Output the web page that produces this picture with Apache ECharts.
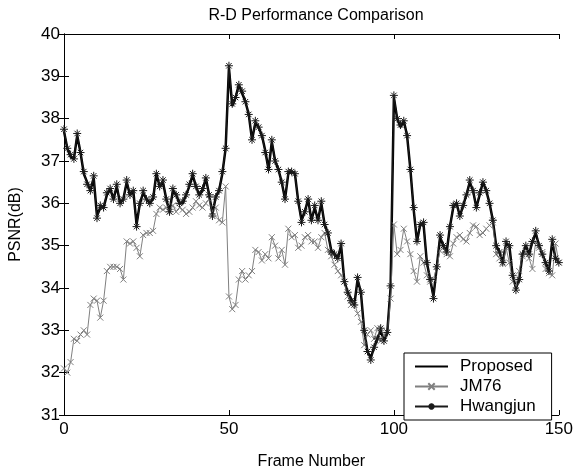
<!DOCTYPE html>
<html>
<head>
<meta charset="utf-8">
<script src="https://cdn.jsdelivr.net/npm/echarts@6/dist/echarts.min.js"></script>
<style>html,body{margin:0;padding:0;background:#fff;}#c{width:576px;height:475px;}</style>
</head>
<body>
<div id="c"></div>
<script>
var xTicks = [0, 50, 100, 150];
var yTicks = [31, 32, 33, 34, 35, 36, 37, 38, 39, 40];
var seriesNames = ['Proposed', 'JM76', 'Hwangjun'];

var proposed = [
37.7,37.3,37.1,37.05,37.6,37.2,36.7,36.5,36.3,36.6,
35.7,35.9,35.9,36.2,36.35,36.1,36.4,36.0,36.1,36.5,
36.2,36.3,35.5,36.0,36.25,36.1,36.0,36.1,36.7,36.4,
36.5,36.1,35.8,36.3,36.2,36.0,36.0,36.2,36.4,36.67,
36.4,36.2,36.3,36.6,36.2,35.75,36.15,36.3,36.7,37.3,
39.2,38.3,38.5,38.8,38.6,38.4,38.1,37.5,37.9,37.8,
37.6,37.25,36.8,37.45,37.0,36.8,36.5,36.1,36.7,36.75,
36.7,36.05,35.6,35.8,36.1,35.6,35.9,35.6,36.0,35.5,
35.3,34.9,34.8,34.7,35.0,34.15,33.9,33.75,33.6,34.2,
33.9,33.0,32.5,32.35,32.6,32.8,33.0,32.75,32.95,34.0,
38.5,38.0,37.8,37.95,37.6,36.8,35.85,35.1,35.5,35.5,
34.6,34.2,33.8,34.5,35.2,35.0,34.85,35.45,35.9,36.0,
35.7,35.95,36.2,36.5,36.3,35.9,36.2,36.5,36.3,36.0,
35.6,35.0,34.85,34.6,35.05,35.0,34.3,34.0,34.2,34.8,
35.0,34.8,35.1,35.3,35.0,34.8,34.6,34.4,35.1,34.7,34.6
];

var jm76 = [
32.1,32.0,32.25,32.8,32.75,32.9,33.0,32.9,33.6,33.75,
33.7,33.3,33.7,34.4,34.5,34.5,34.5,34.45,34.2,35.1,
35.05,35.1,34.95,34.75,35.25,35.3,35.3,35.35,35.75,35.9,
35.85,35.9,35.8,35.95,35.8,35.9,35.85,35.75,35.8,35.9,
36.05,35.95,35.9,36.0,36.1,35.8,35.9,35.6,35.55,36.4,
33.8,33.5,33.6,34.2,34.4,34.2,34.3,34.4,34.9,34.85,
34.65,34.8,34.7,35.2,35.0,34.7,34.9,34.55,35.4,35.2,
35.25,34.95,35.0,35.2,35.25,35.1,35.1,34.95,35.2,35.3,
34.9,34.75,34.55,34.4,34.3,34.15,33.8,33.6,33.65,33.4,
33.2,32.65,32.9,33.0,32.8,33.05,32.75,32.9,32.95,33.75,
35.5,34.8,34.9,35.4,35.1,34.8,34.4,34.15,34.75,34.6,
34.3,34.15,34.2,34.5,34.88,34.95,34.8,34.75,35.05,35.2,
35.25,35.15,35.1,35.3,35.48,35.45,35.25,35.3,35.4,35.48,
35.55,34.8,34.7,34.57,34.95,34.6,34.15,34.05,34.4,34.75,
34.85,34.7,34.45,35.1,34.95,34.85,34.45,34.35,34.3,35.05,34.6
];

var hwangjun = [
37.75,37.3,37.15,37.05,37.65,37.2,36.75,36.45,36.3,36.65,
35.65,35.95,35.9,36.25,36.35,36.1,36.45,36.0,36.1,36.55,
36.2,36.3,35.45,36.0,36.3,36.1,36.0,36.15,36.7,36.4,
36.55,36.1,35.8,36.35,36.2,36.0,36.05,36.2,36.45,36.7,
36.4,36.2,36.35,36.6,36.2,35.7,36.15,36.3,36.75,37.3,
39.25,38.35,38.5,38.8,38.65,38.4,38.1,37.5,37.95,37.8,
37.6,37.2,36.8,37.5,37.0,36.8,36.5,36.1,36.75,36.75,
36.7,36.05,35.55,35.8,36.1,35.6,35.95,35.6,36.05,35.5,
35.3,34.85,34.8,34.7,35.05,34.15,33.9,33.7,33.6,34.25,
33.9,33.0,32.5,32.3,32.6,32.8,33.05,32.75,32.95,34.05,
38.55,38.0,37.85,37.95,37.6,36.8,35.9,35.1,35.5,35.55,
34.6,34.2,33.75,34.5,35.25,35.0,34.85,35.45,35.95,36.0,
35.7,35.95,36.2,36.55,36.3,35.9,36.25,36.5,36.3,36.0,
35.6,35.0,34.85,34.6,35.1,35.0,34.3,33.95,34.2,34.8,
35.0,34.8,35.1,35.35,35.0,34.8,34.6,34.4,35.15,34.7,34.6
];

function pairs(vals) {
  var out = [];
  for (var i = 0; i < vals.length; i++) out.push([i, vals[i]]);
  return out;
}

var FONT = 'Liberation Sans, Arial, sans-serif';
var xMarker = 'path://M0,0L10,10M10,0L0,10';
var starMarker = 'path://M5,0L5,10M0,5L10,5M1.6,1.6L8.4,8.4M8.4,1.6L1.6,8.4';

var axisCommon = {
  axisLine: { show: true, lineStyle: { color: '#000', width: 1 } },
  axisTick: { show: true, inside: true, length: 5, lineStyle: { color: '#000' } },
  splitLine: { show: false }
};

var chart = echarts.init(document.getElementById('c'), null, { renderer: 'canvas' });
chart.setOption({
  backgroundColor: '#fff',
  animation: false,
  title: {
    text: 'R-D Performance Comparison',
    left: 311, top: 3, textAlign: 'center',
    textStyle: { fontFamily: FONT, fontSize: 16, fontWeight: 'normal', color: '#000' }
  },
  grid: { left: 61, right: 14, top: 34, bottom: 47, containLabel: false },
  xAxis: [
    Object.assign({}, axisCommon, {
      type: 'value', min: xTicks[0], max: xTicks[xTicks.length - 1], interval: 50,
      position: 'bottom',
      name: 'Frame Number', nameLocation: 'middle', nameGap: 39,
      nameTextStyle: { fontFamily: FONT, fontSize: 16, color: '#000' },
      axisLabel: { fontFamily: FONT, fontSize: 17, color: '#000', margin: 6 }
    }),
    Object.assign({}, axisCommon, {
      type: 'value', min: xTicks[0], max: xTicks[xTicks.length - 1], interval: 50,
      position: 'top', axisLabel: { show: false }
    })
  ],
  yAxis: [
    Object.assign({}, axisCommon, {
      type: 'value', min: yTicks[0], max: yTicks[yTicks.length - 1], interval: 1,
      position: 'left',
      name: 'PSNR(dB)', nameLocation: 'middle', nameGap: 40, nameRotate: 90,
      nameTextStyle: { fontFamily: FONT, fontSize: 16, color: '#000' },
      axisLabel: { fontFamily: FONT, fontSize: 17, color: '#000', margin: 4 }
    }),
    Object.assign({}, axisCommon, {
      type: 'value', min: yTicks[0], max: yTicks[yTicks.length - 1], interval: 1,
      position: 'right', axisLabel: { show: false }
    })
  ],
  legend: {
    orient: 'vertical',
    left: 404, top: 353,
    data: seriesNames,
    backgroundColor: '#fff',
    borderColor: '#000', borderWidth: 1, borderRadius: 0,
    padding: [5, 16, 5, 10],
    itemGap: 3, itemWidth: 33, itemHeight: 8,
    textStyle: { fontFamily: FONT, fontSize: 17, lineHeight: 17, color: '#000', padding: [0, 0, 0, 7] }
  },
  series: [
    {
      name: seriesNames[0], type: 'line', data: pairs(proposed),
      symbol: 'none', showSymbol: false,
      lineStyle: { color: '#000', width: 2.5 },
      itemStyle: { color: 'rgba(0,0,0,0)', borderWidth: 0 }, z: 2
    },
    {
      name: seriesNames[1], type: 'line', data: pairs(jm76),
      symbol: xMarker, symbolSize: 6, showAllSymbol: true,
      lineStyle: { color: '#808080', width: 1 },
      itemStyle: { color: 'rgba(0,0,0,0)', borderColor: '#808080', borderWidth: 1 }, z: 3
    },
    {
      name: seriesNames[2], type: 'line', data: pairs(hwangjun),
      symbol: starMarker, symbolSize: 8, showAllSymbol: true,
      lineStyle: { color: '#1a1a1a', width: 1 },
      itemStyle: { color: 'rgba(0,0,0,0)', borderColor: '#1a1a1a', borderWidth: 1 }, z: 4
    }
  ]
});
</script>
</body>
</html>
